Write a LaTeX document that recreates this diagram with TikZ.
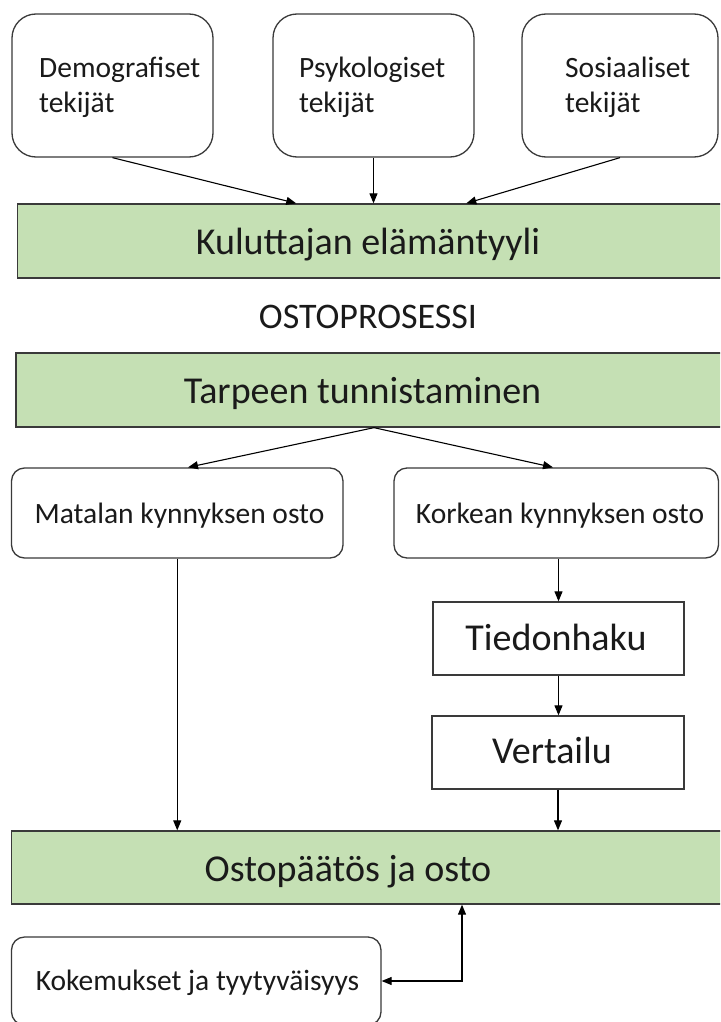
\documentclass[tikz,border=0pt]{standalone}
\usepackage{fontspec}
\setmainfont{Carlito}
\usetikzlibrary{arrows.meta,calc}
\definecolor{greenc}{HTML}{C5E0B4}
\definecolor{linec}{HTML}{3A3A3A}
\definecolor{textc}{HTML}{1A1A1A}
\begin{document}
\begin{tikzpicture}[x=1pt,y=-1pt,
  rbox/.style={draw=linec, line width=1.3pt, rounded corners=24pt, fill=white, inner sep=0pt},
  rsbox/.style={draw=linec, line width=1.3pt, rounded corners=13pt, fill=white, inner sep=0pt},
  gbox/.style={draw=linec, line width=1.3pt, fill=greenc, inner sep=0pt},
  sbox/.style={draw=linec, line width=1.3pt, fill=white, inner sep=0pt},
  small/.style={text=textc, inner sep=0pt, font=\fontsize{29.5}{35}\selectfont},
  big/.style={text=textc, inner sep=0pt, font=\fontsize{38}{44}\selectfont},
  arr/.style={draw=black, line width=1.1pt, -{Triangle[length=10pt,width=8pt]}},
  darr/.style={draw=black, line width=1.1pt, {Triangle[length=10pt,width=8pt]}-{Triangle[length=10pt,width=8pt]}}]
\useasboundingbox (0,0) rectangle (720,1022);
\clip (0,0) rectangle (720,1022);
\fill[white] (0,0) rectangle (720,1022);

% top factor boxes
\node[rbox, minimum width=201pt, minimum height=143pt] (demo) at (112.5,85.5) {};
\node[rbox, minimum width=201pt, minimum height=143pt] (psyk) at (373.5,85.5) {};
\node[rbox, minimum width=196pt, minimum height=143pt] (sosi) at (620,85.5) {};
\node[small, anchor=west, align=left] (demot) at (39,87.5) {Demografiset\\tekijät};
\node[small, anchor=west, align=left] (psykt) at (299,87.5) {Psykologiset\\tekijät};
\node[small, anchor=west, align=left] (sosit) at (565,87.5) {Sosiaaliset\\tekijät};

% lifestyle
\node[gbox, minimum width=707.5pt, minimum height=74pt] (kul) at (371.25,241) {};
\node[big, anchor=base] (kult) at (368,254) {Kuluttajan elämäntyyli};

\draw[arr] (demo.south) -- ($(kul.north)+(-75,0)$);
\draw[arr] (psyk.south) -- (psyk.south |- kul.north);
\draw[arr] (sosi.south) -- ($(kul.north)+(95,0)$);

\node[text=textc, inner sep=0pt, font=\fontsize{36}{42}\selectfont, anchor=base] (proc) at (368,328) {OSTOPROSESSI};

% need recognition
\node[gbox, minimum width=709pt, minimum height=74pt] (tarp) at (370.5,390) {};
\node[big, anchor=base] (tarpt) at (362.5,403) {Tarpeen tunnistaminen};

\node[rsbox, minimum width=331.5pt, minimum height=90pt] (mat) at (177.25,513) {};
\node[rsbox, minimum width=324.5pt, minimum height=90pt] (kor) at (556.25,513) {};
\node[small, anchor=base] (matt) at (179.5,523) {Matalan kynnyksen osto};
\node[small, anchor=base] (kort) at (560,523) {Korkean kynnyksen osto};

\draw[arr] ($(tarp.south)+(3.5,0)$) -- ($(mat.north)+(10.75,0)$);
\draw[arr] ($(tarp.south)+(3.5,0)$) -- ($(kor.north)+(-3.25,0)$);

% high threshold path
\node[sbox, minimum width=251pt, minimum height=73pt] (tied) at (558.5,638.5) {};
\node[big, anchor=base] (tiedt) at (556,650.5) {Tiedonhaku};
\node[sbox, minimum width=252pt, minimum height=73pt] (vert) at (558,752.5) {};
\node[big, anchor=base] (vertt) at (552,763.5) {Vertailu};

\draw[arr] (kor.south -| tied.north) -- (tied.north);
\draw[arr] (tied.south) -- (tied.south |- vert.north);

% decision
\node[gbox, minimum width=713.5pt, minimum height=73pt] (ostop) at (368.25,867.5) {};
\node[big, anchor=base] (ostopt) at (348,881.5) {Ostopäätös ja osto};

\draw[arr] (mat.south) -- (mat.south |- ostop.north);
\draw[arr] (vert.south) -- (vert.south |- ostop.north);

% experiences
\node[rsbox, minimum width=369.5pt, minimum height=88pt] (kok) at (196.25,981) {};
\node[small, anchor=base] (kokt) at (197.5,990) {Kokemukset ja tyytyväisyys};

\draw[darr] ($(ostop.south)+(93.75,0)$) |- (kok.east);
\end{tikzpicture}
\end{document}
